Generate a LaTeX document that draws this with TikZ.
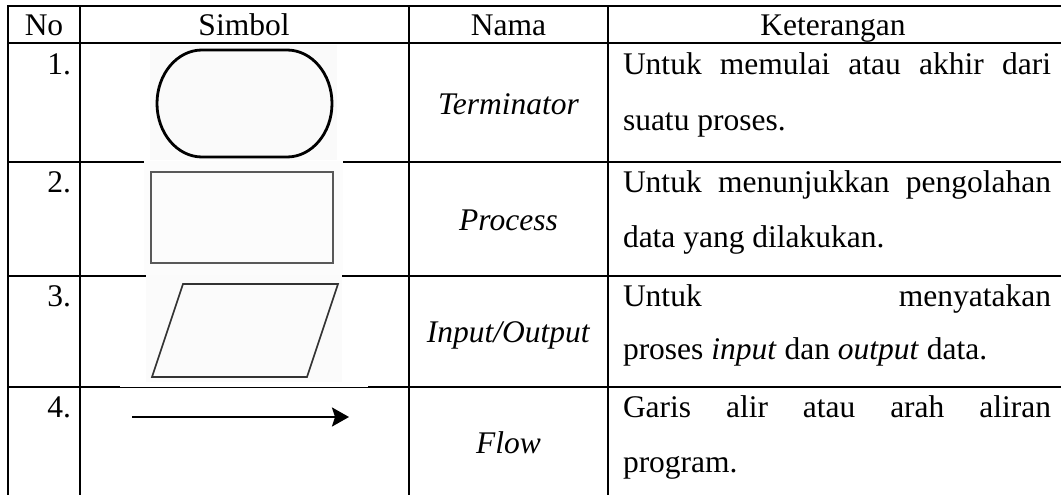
\documentclass[tikz,border=0pt]{standalone}
\usepackage{fontspec}
\setmainfont{Liberation Serif}
\usetikzlibrary{arrows.meta}
\begin{document}
\begin{tikzpicture}[x=1pt,y=-1pt,
  gridline/.style={line width=2.5pt, line cap=rect},
  txt/.style={font=\fontsize{31.5}{38}\selectfont, inner sep=0pt, outer sep=0pt, text=black},
  imgbg/.style={fill=gray!4},
  termshape/.style={draw=black, line width=2.8pt},
  procshape/.style={draw=black!65, line width=2.2pt},
  ioshape/.style={draw=black!80, line width=1.6pt, line join=miter},
  flowline/.style={line width=2.4pt, -{Stealth[length=17pt,width=19pt,inset=3pt]}}]
\useasboundingbox (0,0) rectangle (1061,495);
\fill[white] (0,0) rectangle (1061,495);
% table grid
\foreach \yy in {6,43,162,276,387} \draw[gridline] (8,\yy) -- (1061,\yy);
\foreach \xx in {8,80,409,608} \draw[gridline] (\xx,6) -- (\xx,495);
% symbol image backgrounds
\fill[imgbg] (150,45) rectangle (337,160);
\fill[gray!2] (144,160.6) rectangle (343,275);
\fill[gray!3] (146,274.6) rectangle (342,382);
\fill[white] (120,385.5) rectangle (368,387.3);
% symbols
\draw[termshape] (202,50) -- (287,50)
  arc[start angle=-90, end angle=90, x radius=45, y radius=53.5]
  -- (202,157)
  arc[start angle=90, end angle=270, x radius=45, y radius=53.5] -- cycle;
\draw[procshape] (151,172) rectangle (333,263);
\draw[ioshape] (183,284) -- (338,284) -- (307,377) -- (152,377) -- cycle;
\coordinate (flowA) at (132,417);
\coordinate (flowB) at (349,417);
\draw[flowline] (flowA) -- (flowB);
% header
\node[txt, anchor=base] (hNo) at (44,36) {No};
\node[txt, anchor=base] (hSim) at (244,36) {Simbol};
\node[txt, anchor=base] (hNam) at (508.5,36) {Nama};
\node[txt, anchor=base] (hKet) at (833,36) {Keterangan};
% numbers
\node[txt, anchor=base east] (n1) at (71,75) {1.};
\node[txt, anchor=base east] (n2) at (71,192) {2.};
\node[txt, anchor=base east] (n3) at (71,306) {3.};
\node[txt, anchor=base east] (n4) at (71,417) {4.};
% names
\node[txt, anchor=base] (m1) at (508.5,114) {\textit{Terminator}};
\node[txt, anchor=base] (m2) at (508.5,230) {\textit{Process}};
\node[txt, anchor=base] (m3) at (508.5,342) {\textit{Input/Output}};
\node[txt, anchor=base] (m4) at (508.5,453) {\textit{Flow}};
% descriptions
\node[txt, anchor=base west] (k1a) at (623,75) {\makebox[428pt][s]{Untuk memulai atau akhir dari}};
\node[txt, anchor=base west] (k1b) at (623,130) {suatu proses.};
\node[txt, anchor=base west] (k2a) at (623,192) {\makebox[428pt][s]{Untuk menunjukkan pengolahan}};
\node[txt, anchor=base west] (k2b) at (623,247) {data yang dilakukan.};
\node[txt, anchor=base west] (k3a) at (623,306) {\makebox[428pt][s]{Untuk menyatakan}};
\node[txt, anchor=base west] (k3b) at (623,359) {proses \textit{input} dan \textit{output} data.};
\node[txt, anchor=base west] (k4a) at (623,417) {\makebox[428pt][s]{Garis alir atau arah aliran}};
\node[txt, anchor=base west] (k4b) at (623,472) {program.};
\end{tikzpicture}
\end{document}
